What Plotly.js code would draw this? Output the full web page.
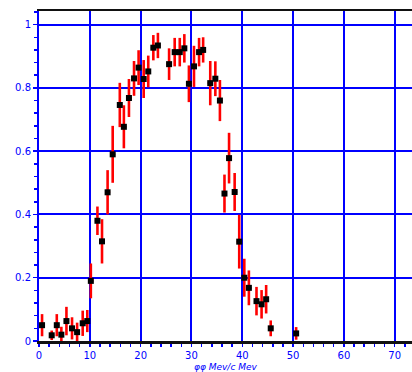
<!DOCTYPE html>
<html>
<head>
<meta charset="utf-8">
<script src="https://cdn.plot.ly/plotly-3.0.1.min.js"></script>
<style>
  html, body { margin: 0; padding: 0; background: #ffffff; }
  #chart { width: 412px; height: 372px; }
</style>
</head>
<body>
<div id="chart"></div>
<script>
// Measured spectrum: bin centres, yields and their statistical errors
const binCentres = [0.6, 2.5, 3.5, 4.4, 5.4, 6.5, 7.5, 8.6, 9.5,
  10.2, 11.5, 12.4, 13.5, 14.5, 15.9, 16.7, 17.7, 18.7, 19.6, 20.6, 21.5,
  22.5, 23.4, 25.6, 26.7, 27.7, 28.6, 29.5, 30.5, 31.5, 32.3, 33.7, 34.7,
  35.6, 36.5, 37.4, 38.5, 39.4, 40.4, 41.3, 42.8, 43.8, 44.7, 45.6, 50.6];
const yields = [0.050, 0.018, 0.050, 0.020, 0.063, 0.040, 0.028, 0.056, 0.063,
  0.19, 0.38, 0.315, 0.47, 0.59, 0.746, 0.677, 0.768, 0.83, 0.864, 0.828, 0.852,
  0.927, 0.934, 0.875, 0.913, 0.913, 0.925, 0.813, 0.868, 0.913, 0.92, 0.815, 0.829,
  0.760, 0.466, 0.578, 0.471, 0.314, 0.20, 0.168, 0.126, 0.116, 0.132, 0.040, 0.024];
const yieldErrors = [0.035, 0.015, 0.035, 0.025, 0.045, 0.035, 0.030, 0.040, 0.035,
  0.055, 0.045, 0.07, 0.07, 0.09, 0.07, 0.068, 0.06, 0.055, 0.055, 0.06, 0.05,
  0.04, 0.04, 0.05, 0.045, 0.045, 0.045, 0.058, 0.065, 0.045, 0.04, 0.07, 0.055,
  0.065, 0.06, 0.08, 0.06, 0.085, 0.06, 0.055, 0.045, 0.045, 0.045, 0.025, 0.02];
const binHalfWidth = 0.5;

const xTickVals = [0, 10, 20, 30, 40, 50, 60, 70];
const xTickText = ['0', '10', '20', '30', '40', '50', '60', '70'];
const yTickVals = [0, 0.2, 0.4, 0.6, 0.8, 1];
const yTickText = ['0', '0.2', '0.4', '0.6', '0.8', '1'];
const xAxisTitle = 'φφ Mev/c Mev';

const blue = '#0000ff';
const tickFont = { family: 'DejaVu Sans, sans-serif', size: 10, color: blue };

const trace = {
  type: 'scatter',
  mode: 'markers',
  x: binCentres,
  y: yields,
  error_y: { type: 'data', array: yieldErrors, visible: true, color: '#ff0000', thickness: 2.6, width: 0 },
  error_x: { type: 'constant', value: binHalfWidth, visible: true, color: '#ff0000', thickness: 1.8, width: 0 },
  marker: { symbol: 'square', size: 6, color: '#000000' },
  hoverinfo: 'x+y',
  showlegend: false
};

const layout = {
  width: 412,
  height: 372,
  margin: { l: 39, r: 0, t: 11, b: 31 },
  paper_bgcolor: '#ffffff',
  plot_bgcolor: '#ffffff',
  xaxis: {
    range: [0, 73.4],
    tickvals: xTickVals,
    ticktext: xTickText,
    tickfont: tickFont,
    ticks: 'outside',
    ticklen: 3,
    tickwidth: 1.5,
    tickcolor: blue,
    showgrid: true,
    gridcolor: blue,
    gridwidth: 2,
    zeroline: false,
    showline: true,
    linecolor: '#111111',
    linewidth: 2.5,
    mirror: true,
    minor: { dtick: 2, ticks: 'outside', ticklen: 3, tickwidth: 1.5, tickcolor: blue, showgrid: false },
    fixedrange: true
  },
  yaxis: {
    range: [0, 1.043],
    tickvals: yTickVals,
    ticktext: yTickText,
    tickfont: tickFont,
    ticks: 'outside',
    ticklen: 4,
    tickwidth: 1.5,
    tickcolor: blue,
    showgrid: true,
    gridcolor: blue,
    gridwidth: 2,
    zeroline: false,
    showline: true,
    linecolor: blue,
    linewidth: 2,
    minor: { dtick: 0.04, ticks: 'outside', ticklen: 3, tickwidth: 1.5, tickcolor: blue, showgrid: false },
    fixedrange: true
  },
  annotations: [{
    text: xAxisTitle,
    xref: 'paper', yref: 'paper',
    x: 0.5, y: -0.079,
    xanchor: 'center', yanchor: 'middle',
    showarrow: false,
    font: { family: 'DejaVu Sans, sans-serif', size: 9, color: blue, style: 'italic' }
  }]
};

Plotly.newPlot('chart', [trace], layout, { displayModeBar: false, staticPlot: true });
</script>
</body>
</html>
